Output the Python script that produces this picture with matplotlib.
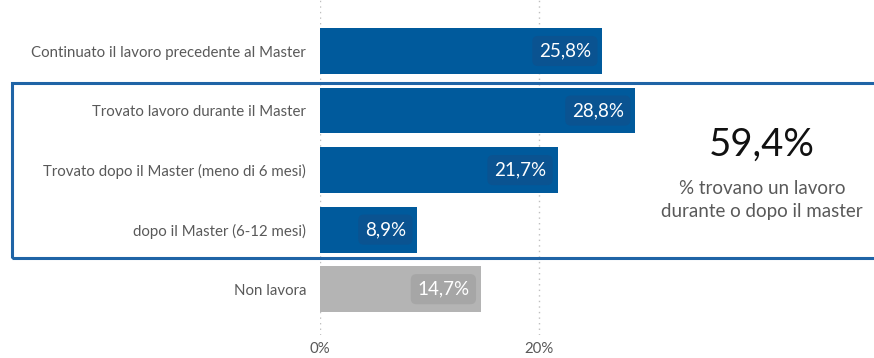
import matplotlib.pyplot as plt
from matplotlib.patches import Rectangle

categories = ['Continuato il lavoro precedente al Master',
              'Trovato lavoro durante il Master',
              'Trovato dopo il Master (meno di 6 mesi)',
              'dopo il Master (6-12 mesi)',
              'Non lavora']
values = [25.8, 28.8, 21.7, 8.9, 14.7]
labels = ['25,8%', '28,8%', '21,7%', '8,9%', '14,7%']
bar_colors = ['#005A9C', '#005A9C', '#005A9C', '#005A9C', '#B4B4B4']
box_colors = ['#0A5391', '#0A5391', '#0A5391', '#0A5391', '#A6A6A6']
total_label = '59,4%'
total_text = '% trovano un lavoro\ndurante o dopo il master'

plt.rcParams['font.family'] = ['Lato', 'DejaVu Sans']

W, H = 874, 358
fig = plt.figure(figsize=(W / 100, H / 100), dpi=100)
ax = fig.add_axes([320 / W, 23 / H, 1 - 320 / W, 335 / H])

pos = list(range(len(categories)))
ax.barh(pos, values, height=0.77, color=bar_colors, zorder=2)
ax.set_xlim(0, 50.6)
ax.set_ylim(4.77, -0.857)

ax.set_yticks(pos)
ax.set_yticklabels(categories, fontsize=10.8, color='#595959')
ax.set_xticks([0, 20])
ax.set_xticklabels(['0%', '20%'], fontsize=10.8, color='#595959')
ax.tick_params(axis='y', length=0, pad=10)
ax.tick_params(axis='x', length=0, pad=5)
for s in ax.spines.values():
    s.set_visible(False)
ax.xaxis.grid(True, linestyle=(0, (1, 3)), color='#BFBFBF', linewidth=1, zorder=0)

# value labels on rounded boxes
for i, (v, lab) in enumerate(zip(values, labels)):
    ax.text(v - 1.05, i, lab, ha='right', va='center', fontsize=13.5, color='white', zorder=4,
            bbox=dict(boxstyle='round,pad=0.35,rounding_size=0.3', fc=box_colors[i], ec='none'))

# highlight frame around the three "found work" bars
fig.patches.append(Rectangle((12 / W, (H - 258) / H), 1.0, 175 / H, transform=fig.transFigure,
                             fill=False, ec='#1F64A6', lw=2.2, clip_on=False))

fig.text(762 / W, 1 - 145 / H, total_label, ha='center', va='center', fontsize=27.5, color='#111111')
fig.text(762 / W, 1 - 200 / H, total_text, ha='center', va='center', fontsize=13.5,
         color='#595959', linespacing=1.45)

fig.savefig('out.png', dpi=100)
